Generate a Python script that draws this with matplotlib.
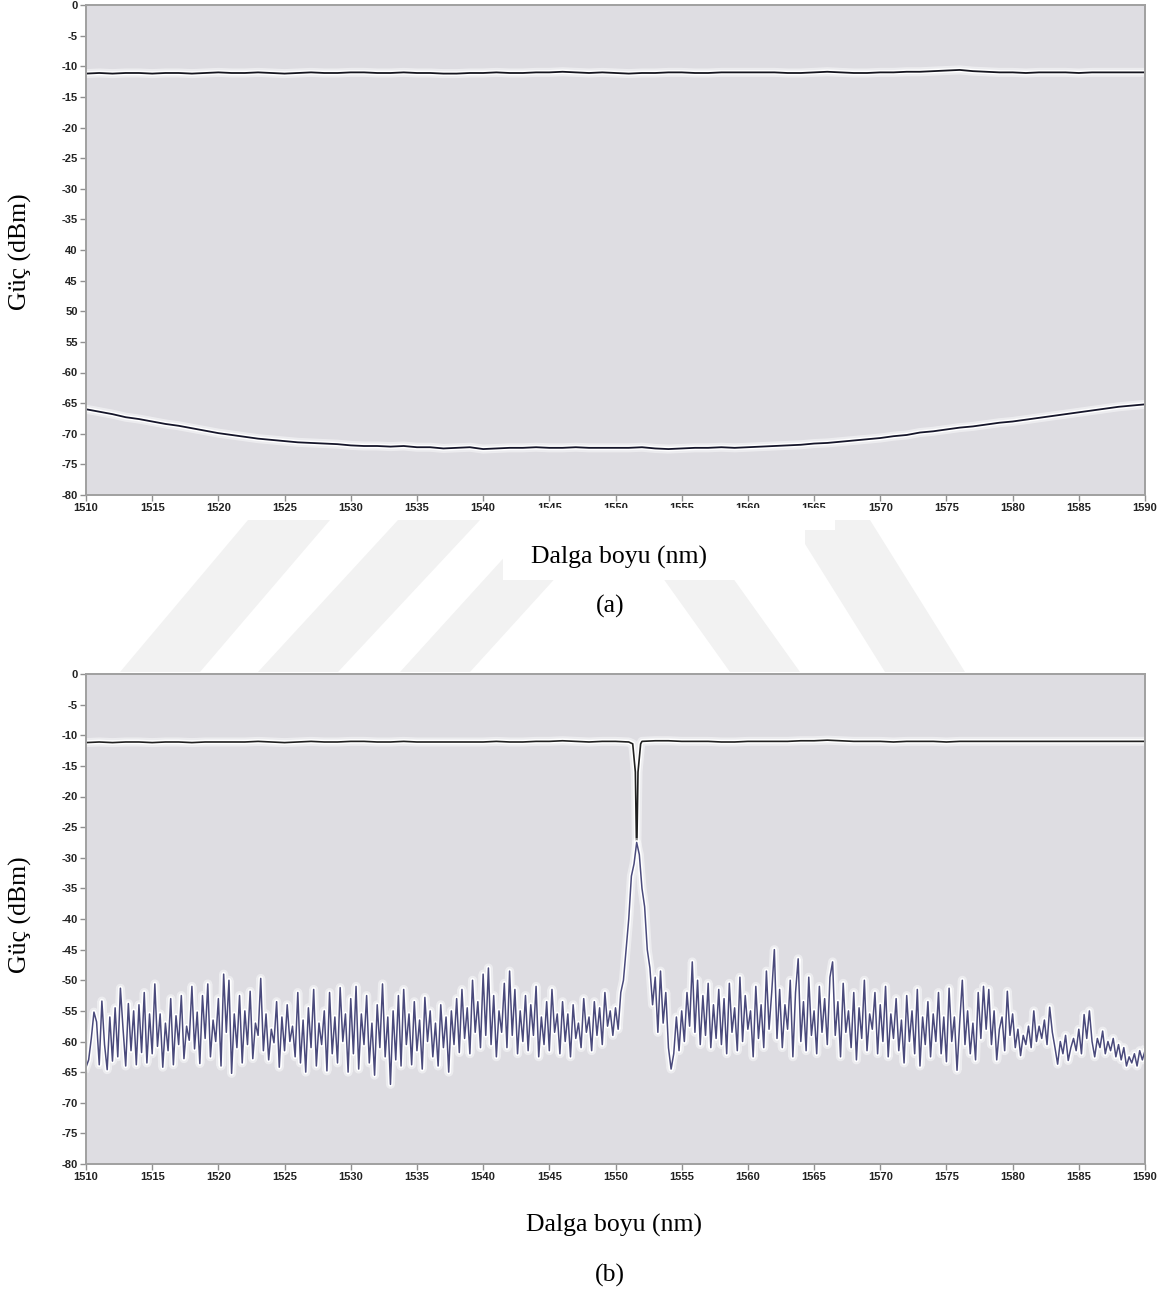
import numpy as np
import matplotlib
matplotlib.use("Agg")
from matplotlib import pyplot as plt
from matplotlib import patheffects as pe
from matplotlib.patches import Polygon, Rectangle

plt.rcParams.update({"axes.unicode_minus": False, "font.family": "Liberation Sans"})

#  ------------------------------------------  data  ------------------------------------------  #

# (a) 1 nm grid, 1510 ... 1590
wl_a = np.arange(1510, 1591, 1)
thru_a = [-11.2, -11.1, -11.2, -11.1, -11.1, -11.2, -11.1, -11.1, -11.2, -11.1,
          -11.0, -11.1, -11.1, -11.0, -11.1, -11.2, -11.1, -11.0, -11.1, -11.1,
          -11.0, -11.0, -11.1, -11.1, -11.0, -11.1, -11.1, -11.2, -11.2, -11.1,
          -11.1, -11.0, -11.1, -11.1, -11.0, -11.0, -10.9, -11.0, -11.1, -11.0,
          -11.1, -11.2, -11.1, -11.1, -11.0, -11.0, -11.1, -11.1, -11.0, -11.0,
          -11.0, -11.0, -11.0, -11.1, -11.1, -11.0, -10.9, -11.0, -11.1, -11.1,
          -11.0, -11.0, -10.9, -10.9, -10.8, -10.7, -10.6, -10.8, -10.9, -11.0,
          -11.0, -11.1, -11.0, -11.0, -11.0, -11.1, -11.0, -11.0, -11.0, -11.0, -11.0]
drop_a = [-66.0, -66.4, -66.8, -67.3, -67.6, -68.0, -68.4, -68.7, -69.1, -69.5,
          -69.9, -70.2, -70.5, -70.8, -71.0, -71.2, -71.4, -71.5, -71.6, -71.7,
          -71.9, -72.0, -72.0, -72.1, -72.0, -72.2, -72.2, -72.4, -72.3, -72.2,
          -72.5, -72.4, -72.3, -72.3, -72.2, -72.3, -72.3, -72.2, -72.3, -72.3,
          -72.3, -72.3, -72.2, -72.4, -72.5, -72.4, -72.3, -72.3, -72.2, -72.3,
          -72.2, -72.1, -72.0, -71.9, -71.8, -71.6, -71.5, -71.3, -71.1, -70.9,
          -70.7, -70.4, -70.2, -69.8, -69.6, -69.3, -69.0, -68.8, -68.5, -68.2,
          -68.0, -67.7, -67.4, -67.1, -66.8, -66.5, -66.2, -65.9, -65.6, -65.4, -65.2]

# (b) through port, with the notch at the ring resonance
wl_b_thru = np.concatenate([np.arange(1510, 1552, 1), [1551.3, 1551.5, 1551.6, 1551.7, 1551.9],
                            np.arange(1552, 1591, 1)])
thru_b = [-11.2, -11.1, -11.2, -11.1, -11.1, -11.2, -11.1, -11.1, -11.2, -11.1,
          -11.1, -11.1, -11.1, -11.0, -11.1, -11.2, -11.1, -11.0, -11.1, -11.1,
          -11.0, -11.0, -11.1, -11.1, -11.0, -11.1, -11.1, -11.1, -11.1, -11.1,
          -11.1, -11.0, -11.1, -11.1, -11.0, -11.0, -10.9, -11.0, -11.1, -11.0,
          -11.0, -11.1,
          -11.4, -16.0, -30.0, -16.0, -11.4,
          -11.0, -10.9, -10.9, -11.0, -11.0, -11.0, -11.1, -11.1, -11.0, -11.0,
          -11.0, -11.0, -10.9, -10.9, -10.8, -10.9, -11.0, -11.0, -11.0, -11.1,
          -11.0, -11.0, -11.0, -11.1, -11.0, -11.0, -11.0, -11.0, -11.0, -11.0,
          -11.0, -11.0, -11.0, -11.0, -11.0, -11.0, -11.0, -11.0, -11.0]

# (b) drop port, 0.2 nm grid, 1510 ... 1590
wl_b_drop = np.round(np.arange(0, 401) * 0.2 + 1510, 1)
drop_b = [
    -64.2, -63.0, -59.5, -55.2, -56.8, -63.8, -53.4, -60.5, -64.6, -56.0, -63.2, -54.5, -62.5, -51.3, -58.0, -64.0, -53.8, -61.5, -55.0, -63.8,
    -54.0, -61.8, -52.0, -63.5, -55.5, -62.0, -50.6, -60.8, -55.5, -64.2, -57.0, -61.5, -53.0, -63.8, -55.8, -60.5, -52.5, -62.8, -57.5, -59.8,
    -51.0, -61.2, -55.2, -63.6, -52.5, -59.5, -50.6, -62.5, -56.5, -60.0, -53.0, -64.0, -49.0, -58.5, -50.0, -65.2, -55.5, -61.0, -52.5, -63.5,
    -55.0, -60.5, -51.8, -62.8, -57.0, -59.0, -49.7, -61.5, -55.5, -63.0, -58.0, -60.2, -53.5, -64.2, -56.0, -61.5, -54.0, -60.0, -57.5, -62.5,
    -52.0, -63.5, -56.5, -65.0, -54.5, -61.0, -51.5, -64.0, -57.0, -60.5, -55.0, -64.8, -52.0, -62.0, -56.0, -63.5, -51.2, -60.0, -55.5, -65.0,
    -53.0, -62.0, -51.0, -64.5, -55.5, -60.5, -52.5, -63.5, -57.0, -65.5, -54.0, -61.0, -50.6, -62.5, -56.0, -67.0, -55.0, -63.0, -52.5, -64.0,
    -51.5, -60.5, -55.5, -63.8, -53.5, -61.5, -56.5, -64.5, -52.8, -60.0, -55.0, -62.5, -57.0, -64.0, -54.0, -61.0, -56.0, -65.0, -55.0, -60.5,
    -53.0, -61.8, -51.5, -59.5, -54.5, -62.0, -50.0, -58.5, -53.5, -61.0, -49.0, -59.0, -48.0, -60.5, -52.5, -62.5, -55.0, -58.5, -50.5, -61.0,
    -48.5, -59.0, -51.5, -62.0, -55.0, -60.0, -52.5, -61.5, -54.0, -59.0, -51.0, -62.5, -56.0, -60.5, -53.5, -61.5, -51.5, -58.5, -55.5, -62.0,
    -53.5, -60.0, -55.5, -62.5, -54.0, -59.5, -57.0, -61.0, -53.0, -58.5, -56.0, -61.5, -53.5, -59.0, -54.5, -60.5, -52.0, -57.5, -55.0, -59.0,
    -54.5, -58.0, -52.0, -50.0, -45.0, -40.0, -33.0, -31.0, -27.5, -29.5, -35.0, -38.0, -45.0, -48.0, -54.0, -49.5, -58.5, -48.5, -57.0, -52.0,
    -61.0, -64.5, -62.0, -56.0, -61.5, -55.0, -60.0, -52.0, -57.5, -47.0, -58.5, -50.0, -60.5, -52.5, -59.0, -50.5, -61.0, -54.0, -59.5, -51.5,
    -60.5, -53.0, -62.0, -50.5, -58.5, -54.5, -61.5, -49.5, -60.0, -52.5, -58.0, -55.0, -62.5, -51.0, -59.5, -54.0, -61.0, -48.5, -58.0, -52.0,
    -45.0, -59.5, -51.5, -61.0, -54.0, -58.0, -50.0, -62.5, -52.0, -46.5, -60.0, -53.5, -61.5, -49.5, -59.0, -55.0, -62.0, -51.0, -58.5, -53.0,
    -60.5, -49.5, -47.0, -59.0, -53.5, -62.5, -50.5, -58.5, -55.0, -61.0, -52.0, -63.0, -54.5, -59.5, -50.0, -61.5, -55.5, -58.0, -52.0, -62.0,
    -54.0, -60.0, -51.0, -62.5, -55.5, -59.5, -53.0, -61.5, -56.5, -63.5, -52.5, -60.0, -55.0, -62.0, -51.5, -64.0, -56.0, -60.5, -53.5, -62.5,
    -55.5, -60.0, -52.0, -62.0, -56.0, -63.3, -51.3, -60.0, -56.0, -64.7, -57.0, -50.0, -60.5, -55.0, -62.0, -57.0, -63.0, -52.0, -59.5, -51.0,
    -58.0, -51.5, -60.5, -55.0, -63.0, -58.0, -56.0, -61.5, -51.8, -59.0, -55.5, -61.0, -58.0, -62.3, -59.0, -60.5, -57.5, -61.0, -55.0, -60.0,
    -57.5, -59.5, -56.5, -60.5, -54.4, -58.5, -61.0, -63.7, -60.0, -62.0, -59.0, -63.1, -61.0, -59.5, -61.5, -58.0, -62.0, -55.6, -59.5, -55.0,
    -60.0, -62.5, -59.5, -61.0, -58.3, -62.0, -60.0, -61.5, -59.5, -62.5, -60.5, -63.0, -61.0, -64.0, -62.5, -63.5, -62.0, -64.0, -61.5, -63.0,
    -61.5]

xticks = np.arange(1510, 1591, 5)
yticks = np.arange(0, -81, -5)
ylabels_a = ["0", "-5", "-10", "-15", "-20", "-25", "-30", "-35", "40", "45", "50", "55",
             "-60", "-65", "-70", "-75", "-80"]
ylabels_b = [str(v) for v in yticks]

#  ------------------------------------------  figure  ----------------------------------------  #

W, H = 1169, 1298
fig = plt.figure(figsize=(W / 100, H / 100), dpi=100)

# faint watermark behind everything, between the panels
wm = [[(120, 672), (200, 672), (330, 520), (248, 520)],
      [(258, 672), (338, 672), (480, 520), (398, 520)],
      [(400, 672), (470, 672), (590, 540), (520, 540)],
      [(790, 520), (870, 520), (965, 672), (885, 672)],
      [(650, 560), (720, 560), (800, 672), (730, 672)]]
for poly in wm:
    fig.patches.append(Polygon([(x / W, 1 - y / H) for x, y in poly], closed=True,
                               transform=fig.transFigure, color="#f2f2f2", zorder=0, lw=0))

halo = [pe.Stroke(linewidth=6.5, foreground="white", alpha=0.45),
        pe.Stroke(linewidth=3.4, foreground="white"), pe.Normal()]


def panel(bottom_px, ylabels):
    ax = fig.add_axes([86 / W, 1 - bottom_px / H, 1059 / W, 490 / H])
    ax.set_facecolor("#dedde2")
    ax.set_xlim(1510, 1590)
    ax.set_ylim(-80, 0)
    ax.set_xticks(xticks)
    ax.set_yticks(yticks)
    ax.set_yticklabels(ylabels)
    for s in ax.spines.values():
        s.set_color("#a0a0a0")
        s.set_linewidth(1.4)
    ax.tick_params(direction="out", length=4, width=1, color="#909090", pad=2,
                   labelsize=8, labelcolor="#222222")
    for lab in ax.get_xticklabels() + ax.get_yticklabels():
        lab.set_fontweight("bold")
    return ax


ax1 = panel(495, ylabels_a)
ax1.plot(wl_a, thru_a, color="#15151f", lw=1.3, path_effects=halo)
ax1.plot(wl_a, drop_a, color="#15152a", lw=1.3, path_effects=halo)

ax2 = panel(1164, ylabels_b)
ax2.plot(wl_b_thru, thru_b, color="#202020", lw=1.2, path_effects=halo)
ax2.plot(wl_b_drop, drop_b, color="#4a4a7c", lw=1.1, path_effects=halo)

# white box over the watermark behind the top x label (it also clips some tick labels)
fig.patches.append(Rectangle((530 / W, 1 - 530 / H), 305 / W, 22 / H, transform=fig.transFigure,
                             color="white", zorder=5, lw=0))
fig.patches.append(Rectangle((503 / W, 1 - 580 / H), 302 / W, 52 / H, transform=fig.transFigure,
                             color="white", zorder=5, lw=0))

serif = dict(family="Liberation Serif", fontsize=18.5, ha="center", va="center", zorder=6)
fig.text(619 / W, 1 - 557 / H, "Dalga boyu (nm)", **serif)
fig.text(610 / W, 1 - 606 / H, "(a)", **serif)
fig.text(614 / W, 1 - 1225 / H, "Dalga boyu (nm)", **serif)
fig.text(610 / W, 1 - 1275 / H, "(b)", **serif)
fig.text(20 / W, 1 - 252 / H, "Güç (dBm)", rotation=90, **serif)
fig.text(20 / W, 1 - 915 / H, "Güç (dBm)", rotation=90, **serif)

plt.savefig("out.png", dpi=100)
